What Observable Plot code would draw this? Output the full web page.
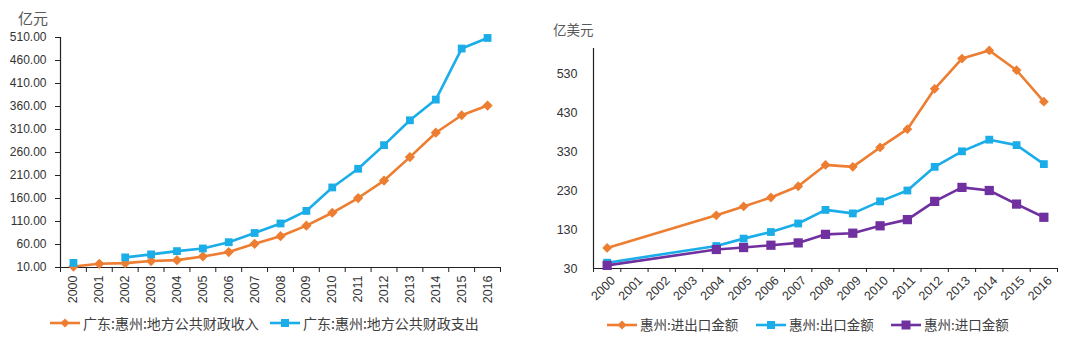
<!DOCTYPE html>
<html><head><meta charset="utf-8">
<script src="https://cdn.jsdelivr.net/npm/d3@7"></script>
<script src="https://cdn.jsdelivr.net/npm/@observablehq/plot@0.6"></script>
<style>
body{margin:0;background:#fff;font-family:"Liberation Sans","Noto Sans CJK SC",sans-serif;}
#root{position:relative;width:1080px;height:345px;overflow:hidden;background:#fff;}
.unit{position:absolute;color:#595959;font-family:"Noto Sans CJK SC",sans-serif;line-height:1;white-space:nowrap;}
.leg{position:absolute;display:flex;align-items:center;color:#404040;font-family:"Noto Sans CJK SC",sans-serif;white-space:nowrap;line-height:1;}
.leg svg{display:block;margin-right:3px;}
</style></head>
<body><div id="root"></div>
<script>
// ---- Data ----
const years = [2000,2001,2002,2003,2004,2005,2006,2007,2008,2009,2010,2011,2012,2013,2014,2015,2016];
const fiscalIncome  = [12,18,19.5,24,26,34,43.5,61.5,78,101,129,161,199,250,303,341,362];
const fiscalExpense = [20,null,32,38.5,45.6,51.4,65,85,105.7,133,184,224.6,276,330,375,486,509];
const leftTicks = [10,60,110,160,210,260,310,360,410,460,510];

const tradeYears = [2000,2004,2005,2006,2007,2008,2009,2010,2011,2012,2013,2014,2015,2016];
const tradeTotal   = [83,167,190,213,242,297,292,342,389,493,571,592,541,460];
const tradeExport  = [45,88,107,124,146,181,172,203,231,292,332,362,348,299];
const tradeImport  = [38,79,84,90,96,118,121,140,156,203,239,231,196,162];
const rightTicks = [30,130,230,330,430,530];

const leftNames = ["广东:惠州:地方公共财政收入","广东:惠州:地方公共财政支出"];
const rightNames = ["惠州:进出口金额","惠州:出口金额","惠州:进口金额"];

const ORANGE = "#ED7D31", BLUE = "#1AADE8", PURPLE = "#7030A0";
const root = document.getElementById("root");

const halfYears = years.map(y => y - 0.5).concat([years[years.length-1] + 0.5]);

// ---- Left chart ----
const leftData = years.map((y,i) => ({year:y, inc:fiscalIncome[i], exp:fiscalExpense[i]}));
const left = Plot.plot({
  width: 540, height: 310,
  marginLeft: 60, marginRight: 40, marginTop: 37, marginBottom: 43,
  style: {fontFamily: "Liberation Sans, sans-serif", fontSize: "12px", color: "#333", background: "transparent"},
  x: {type: "linear", domain: [1999.5, 2016.5], axis: null},
  y: {domain: [10, 510], axis: null},
  marks: [
    Plot.ruleX([1999.5], {stroke: "#222", strokeWidth: 1.2}),
    Plot.ruleY([10], {stroke: "#222", strokeWidth: 1.2}),
    Plot.axisY(leftTicks, {anchor: "left", tickSize: 5, tickPadding: 9, tickFormat: d => d.toFixed(2), label: null, stroke: "#222", fill: "#333"}),
    Plot.axisX(halfYears, {anchor: "bottom", tickSize: 5, tickFormat: () => "", label: null, stroke: "#222"}),
    Plot.axisX(years, {anchor: "bottom", tickSize: 0, tickPadding: 8, tickRotate: -90, tickFormat: d => String(d), label: null, fill: "#333", fontSize: 12.5}),
    Plot.line(leftData, {x: "year", y: "inc", stroke: ORANGE, strokeWidth: 2.6}),
    Plot.dot(leftData.filter(d => d.inc != null), {x: "year", y: "inc", symbol: "diamond2", r: 4.6, fill: ORANGE, stroke: "none"}),
    Plot.line(leftData, {x: "year", y: "exp", stroke: BLUE, strokeWidth: 2.6}),
    Plot.dot(leftData.filter(d => d.exp != null), {x: "year", y: "exp", symbol: "square", r: 4.4, fill: BLUE, stroke: "none"})
  ]
});
left.style.position = "absolute";
left.style.left = "0px";
left.style.top = "0px";
root.appendChild(left);

// ---- Right chart ----
const rightData = tradeYears.map((y,i) => ({year:y, tot:tradeTotal[i], ex:tradeExport[i], im:tradeImport[i]}));
const right = Plot.plot({
  width: 540, height: 310,
  marginLeft: 53, marginRight: 23, marginTop: 48, marginBottom: 42,
  style: {fontFamily: "Liberation Sans, sans-serif", fontSize: "12px", color: "#333", background: "transparent"},
  x: {type: "linear", domain: [1999.5, 2016.5], axis: null},
  y: {domain: [30, 597], axis: null},
  marks: [
    Plot.ruleX([1999.5], {stroke: "#222", strokeWidth: 1.2}),
    Plot.ruleY([30], {stroke: "#222", strokeWidth: 1.2}),
    Plot.axisY(rightTicks, {anchor: "left", tickSize: 0, tickPadding: 16, label: null, fill: "#333", fontSize: 12.5}),
    Plot.axisX(halfYears, {anchor: "bottom", tickSize: 4, tickFormat: () => "", label: null, stroke: "#222"}),
    Plot.axisX(years, {anchor: "bottom", tickSize: 0, tickPadding: 10, dx: 6, tickRotate: -45, tickFormat: d => String(d), label: null, fill: "#333", fontSize: 12.5}),
    Plot.line(rightData, {x: "year", y: "tot", stroke: ORANGE, strokeWidth: 2.6}),
    Plot.dot(rightData, {x: "year", y: "tot", symbol: "diamond2", r: 4.4, fill: ORANGE, stroke: "none"}),
    Plot.line(rightData, {x: "year", y: "ex", stroke: BLUE, strokeWidth: 2.6}),
    Plot.dot(rightData, {x: "year", y: "ex", symbol: "square", r: 4.4, fill: BLUE, stroke: "none"}),
    Plot.line(rightData, {x: "year", y: "im", stroke: PURPLE, strokeWidth: 2.6}),
    Plot.dot(rightData, {x: "year", y: "im", symbol: "square", r: 5.2, fill: PURPLE, stroke: "none"})
  ]
});
right.style.position = "absolute";
right.style.left = "540px";
right.style.top = "0px";
root.appendChild(right);

// ---- Unit labels ----
function unit(text, x, y, size){
  const d = document.createElement("div");
  d.className = "unit"; d.textContent = text;
  d.style.left = x + "px"; d.style.top = y + "px"; d.style.fontSize = size + "px";
  root.appendChild(d);
}
unit("亿元", 18, 10, 15);
unit("亿美元", 553, 23, 13.5);

// ---- Legends ----
function legendItem(text, color, symbol, x, yc, size, msize){
  const d = document.createElement("div");
  d.className = "leg";
  d.style.left = x + "px"; d.style.top = (yc - 10) + "px"; d.style.height = "20px"; d.style.fontSize = size + "px";
  const ns = "http://www.w3.org/2000/svg";
  const s = document.createElementNS(ns, "svg");
  s.setAttribute("width", 30); s.setAttribute("height", 14);
  const l = document.createElementNS(ns, "line");
  l.setAttribute("x1", 0); l.setAttribute("x2", 30); l.setAttribute("y1", 7); l.setAttribute("y2", 7);
  l.setAttribute("stroke", color); l.setAttribute("stroke-width", 2.6);
  s.appendChild(l);
  const m = document.createElementNS(ns, "path");
  const h = msize / 2;
  if (symbol === "diamond") m.setAttribute("d", `M15,${7-h-1}L${15+h+1},7L15,${7+h+1}L${15-h-1},7Z`);
  else m.setAttribute("d", `M${15-h},${7-h}h${msize}v${msize}h${-msize}Z`);
  m.setAttribute("fill", color);
  s.appendChild(m);
  d.appendChild(s);
  const t = document.createElement("span"); t.textContent = text;
  d.appendChild(t);
  root.appendChild(d);
}
legendItem(leftNames[0], ORANGE, "diamond", 50, 323, 14, 7);
legendItem(leftNames[1], BLUE, "square", 270, 323, 14, 8);
legendItem(rightNames[0], ORANGE, "diamond", 607, 325, 13.5, 7);
legendItem(rightNames[1], BLUE, "square", 756, 325, 13.5, 8);
legendItem(rightNames[2], PURPLE, "square", 891, 325, 13.5, 9);
</script>
</body></html>
